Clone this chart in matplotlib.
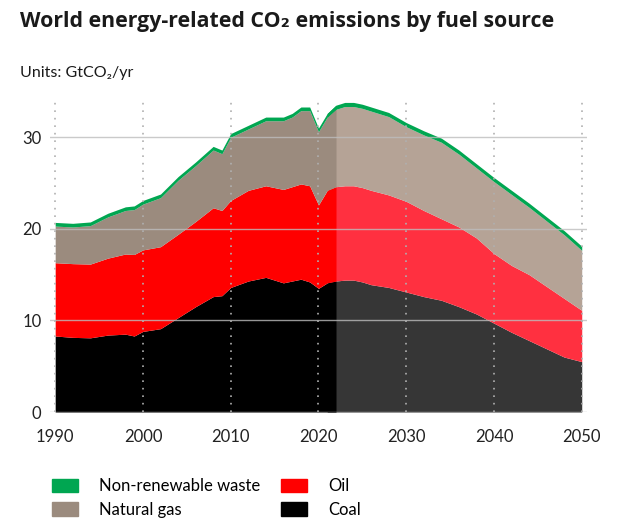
import numpy as np
import matplotlib
matplotlib.use("Agg")
import matplotlib.pyplot as plt
from matplotlib.patches import Patch

plt.rcParams['font.family'] = ['Lato', 'DejaVu Sans']

years = [1990, 1992, 1994, 1996, 1998, 1999, 2000, 2002, 2004, 2006, 2008, 2009,
         2010, 2012, 2014, 2016, 2017, 2018, 2019, 2020, 2021, 2022, 2023, 2024,
         2025, 2026, 2028, 2030, 2032, 2034, 2036, 2038, 2040, 2042, 2044, 2046,
         2048, 2050]

# GtCO2/yr by fuel
coal = [8.3, 8.15, 8.1, 8.4, 8.5, 8.3, 8.8, 9.1, 10.3, 11.5, 12.6, 12.7,
        13.6, 14.3, 14.7, 14.1, 14.3, 14.5, 14.2, 13.5, 14.1, 14.3, 14.4, 14.4,
        14.2, 13.9, 13.6, 13.1, 12.6, 12.2, 11.5, 10.7, 9.7, 8.7, 7.8, 6.9,
        6.0, 5.5]
oil = [8.0, 8.05, 8.05, 8.4, 8.75, 8.9, 8.9, 8.95, 9.1, 9.3, 9.7, 9.3,
       9.5, 9.9, 10.0, 10.2, 10.3, 10.4, 10.5, 9.1, 10.1, 10.3, 10.3, 10.3,
       10.3, 10.3, 10.1, 9.9, 9.4, 8.9, 8.7, 8.3, 7.6, 7.3, 7.2, 6.8,
       6.4, 5.6]
gas = [4.0, 4.0, 4.2, 4.5, 4.75, 4.9, 5.0, 5.35, 5.9, 6.1, 6.3, 6.2,
       6.9, 6.7, 7.1, 7.5, 7.6, 8.0, 8.2, 8.0, 8.0, 8.45, 8.65, 8.65,
       8.65, 8.65, 8.55, 8.15, 8.25, 8.35, 7.95, 7.65, 7.85, 7.75, 7.35, 7.15,
       6.95, 6.55]
waste = [0.4] * 21 + [0.45] * 17

names = ["Coal", "Oil", "Natural gas", "Non-renewable waste"]
hist_colors = ["#000000", "#ff0000", "#9b8b7e", "#00a651"]
proj_colors = ["#363636", "#ff3040", "#b5a396", "#00a651"]

x = np.array(years)
layers = np.array([coal, oil, gas, waste])
tops = np.cumsum(layers, axis=0)
bottoms = np.vstack([np.zeros(len(x)), tops[:-1]])
split = years.index(2022)

fig = plt.figure(figsize=(6.24, 5.25), dpi=100)
ax = fig.add_axes([0.080, 0.2152, 0.8607, 0.5932])

# projection drawn from one point early so no white seam shows at 2022
for i in range(4):
    ax.fill_between(x[split - 1:], bottoms[i][split - 1:], tops[i][split - 1:],
                    color=proj_colors[i], lw=0, zorder=2)
for i in range(4):
    ax.fill_between(x[:split + 1], bottoms[i][:split + 1], tops[i][:split + 1],
                    color=hist_colors[i], lw=0, zorder=2.1)

for yv in [0, 10, 20, 30]:
    ax.axhline(yv, color="#bdbdbd", lw=1.0, alpha=0.8, zorder=3)
for xv in range(1990, 2051, 10):
    ax.plot([xv, xv], [0, 33.9], color="#b0b0b0", lw=1.2,
            linestyle=(0, (1, 3.5)), zorder=3)

ax.set_xlim(1989.4, 2050.6)
ax.set_ylim(0, 34)
ax.set_xticks(range(1990, 2051, 10))
ax.set_yticks([0, 10, 20, 30])
ax.tick_params(axis="both", length=0, labelsize=12, colors="#222222")
ax.tick_params(axis="x", pad=12)
ax.tick_params(axis="y", pad=6)
for s in ax.spines.values():
    s.set_visible(False)

fig.text(0.032, 0.948, "World energy-related CO₂ emissions by fuel source",
         fontsize=15.3, fontweight="bold", color="#1a1a1a", va="baseline",
         family=["Open Sans", "DejaVu Sans"])
fig.text(0.032, 0.853, "Units: GtCO₂/yr", fontsize=11.5, color="#1a1a1a",
         va="baseline")

handles = [Patch(color=hist_colors[3]), Patch(color=hist_colors[2]),
           Patch(color=hist_colors[1]), Patch(color=hist_colors[0])]
labels = [names[3], names[2], names[1], names[0]]
fig.legend(handles, labels, ncol=2, loc="lower left",
           bbox_to_anchor=(0.07, -0.002), frameon=False, fontsize=12,
           handlelength=1.56, handleheight=0.9, handletextpad=1.25,
           columnspacing=1.25, labelspacing=0.45, borderpad=0.0)

fig.savefig("out.png", dpi=100)
